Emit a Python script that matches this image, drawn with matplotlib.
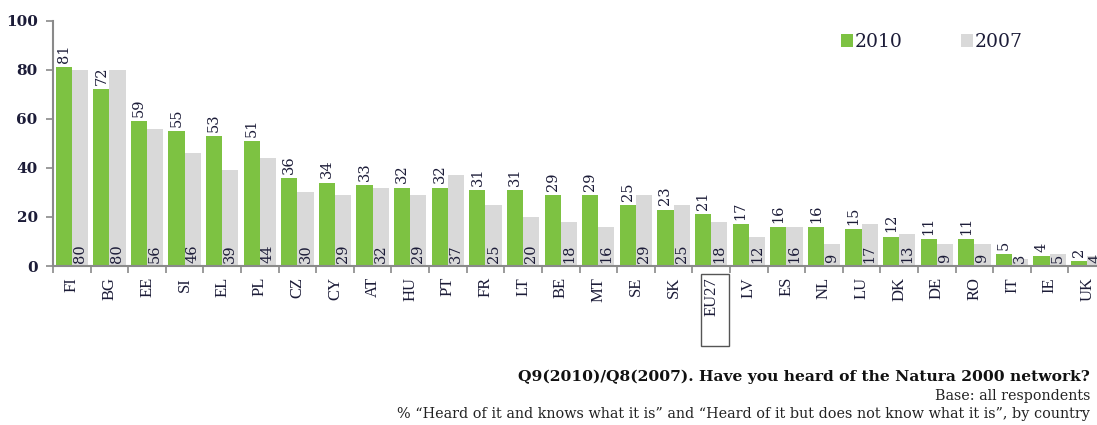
import matplotlib
matplotlib.use("Agg")
import matplotlib.pyplot as plt
from matplotlib.patches import Rectangle
import numpy as np

countries = ["FI", "BG", "EE", "SI", "EL", "PL", "CZ", "CY", "AT", "HU", "PT", "FR", "LT",
             "BE", "MT", "SE", "SK", "EU27", "LV", "ES", "NL", "LU", "DK", "DE", "RO", "IT", "IE", "UK"]
v2010 = [81, 72, 59, 55, 53, 51, 36, 34, 33, 32, 32, 31, 31, 29, 29, 25, 23, 21, 17, 16, 16, 15, 12, 11, 11, 5, 4, 2]
v2007 = [80, 80, 56, 46, 39, 44, 30, 29, 32, 29, 37, 25, 20, 18, 16, 29, 25, 18, 12, 16, 9, 17, 13, 9, 9, 3, 5, 4]
yticks = [0, 20, 40, 60, 80, 100]

GREEN = "#7DC242"
GRAY = "#D9D9D9"
TXT = "#1c1c38"
SPINE = "#8a8a8a"

W, H = 1097, 425
fig = plt.figure(figsize=(W / 100, H / 100), dpi=100)
ax = fig.add_axes([53 / W, (H - 266) / H, (1106 - 53) / W, (266 - 20.7) / H])

n = len(countries)
x = np.arange(n)
bw = 0.43
ax.bar(x - bw / 2, v2010, bw, color=GREEN, label="2010", zorder=2)
ax.bar(x + bw / 2, v2007, bw, color=GRAY, label="2007", zorder=2)

for xi, v in zip(x, v2010):
    ax.annotate(str(v), (xi - bw / 2, v), xytext=(0, 3), textcoords="offset points",
                rotation=90, ha="center", va="bottom", fontsize=10.5,
                family="DejaVu Serif", color=TXT)
for xi, v in zip(x, v2007):
    ax.annotate(str(v), (xi + bw / 2, 0), xytext=(0, 2.5), textcoords="offset points",
                rotation=90, ha="center", va="bottom", fontsize=10.5,
                family="DejaVu Serif", color=TXT)

ax.set_xlim(-0.5, n - 0.5)
ax.set_ylim(0, 100)
ax.set_yticks(yticks)
ax.set_yticklabels([str(t) for t in yticks], family="DejaVu Serif", fontweight="bold",
                   fontsize=11, color=TXT)

ax.set_xticks(np.arange(n + 1) - 0.5)
ax.set_xticklabels([])
ax.set_xticks(x, minor=True)
ax.set_xticklabels(countries, minor=True, rotation=90, family="Liberation Serif",
                   fontsize=12, color=TXT, va="top", ha="center")
ax.tick_params(axis="x", which="major", length=5, width=1.2, color=SPINE, direction="out")
ax.tick_params(axis="x", which="minor", length=0, pad=8)
ax.tick_params(axis="y", length=5, width=1.2, color=SPINE, direction="out", pad=6)

for s in ["top", "right"]:
    ax.spines[s].set_visible(False)
for s in ["left", "bottom"]:
    ax.spines[s].set_color(SPINE)
    ax.spines[s].set_linewidth(1.5)

leg = ax.legend(loc="center left", bbox_to_anchor=(841 / W, (H - 42) / H), bbox_transform=fig.transFigure,
                ncol=2, frameon=False, handlelength=0.65, handleheight=0.65, columnspacing=3.1,
                handletextpad=0.1, borderpad=0, borderaxespad=0,
                prop={"family": "DejaVu Serif", "size": 13.5})
for t in leg.get_texts():
    t.set_color(TXT)

fig.text(1090 / W, (H - 377) / H, "Q9(2010)/Q8(2007). Have you heard of the Natura 2000 network?",
         ha="right", va="center", family="DejaVu Serif", fontweight="bold", fontsize=11.15, color="#111111")
fig.text(1090 / W, (H - 396) / H, "Base: all respondents",
         ha="right", va="center", family="DejaVu Serif", fontsize=10.3, color="#222222")
fig.text(1090 / W, (H - 414) / H,
         "% \u201cHeard of it and knows what it is\u201d and \u201cHeard of it but does not know what it is\u201d, by country",
         ha="right", va="center", family="DejaVu Serif", fontsize=10.35, color="#222222")

# box around the EU27 label, sized from the label itself
fig.canvas.draw()
for lab in ax.get_xticklabels(minor=True):
    if lab.get_text() == "EU27":
        bb = lab.get_window_extent()
        x0, x1 = bb.x0 - 2, bb.x1 + 10
        y1 = bb.y1 + 3
        y0 = bb.y0 - 30
        fig.patches.append(Rectangle((x0 / W, y0 / H), (x1 - x0) / W, (y1 - y0) / H,
                                     transform=fig.transFigure, fill=False,
                                     edgecolor="#555555", linewidth=1.0))

fig.savefig("out.png", dpi=100)
